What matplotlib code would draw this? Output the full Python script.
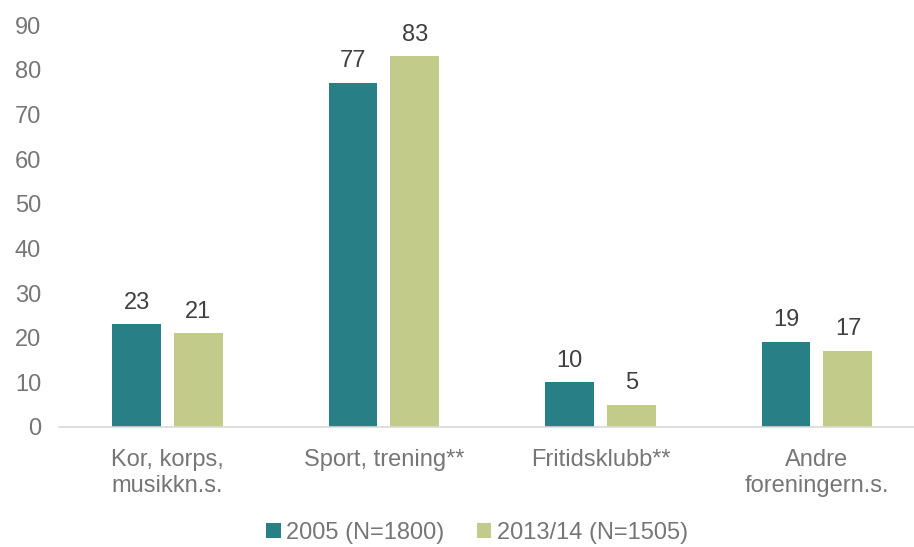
import matplotlib.pyplot as plt
import numpy as np

plt.rcParams['font.family'] = ['Liberation Sans', 'DejaVu Sans']

categories = ['Kor, korps,\nmusikkn.s.', 'Sport, trening**', 'Fritidsklubb**', 'Andre\nforeningern.s.']
series_names = ['2005 (N=1800)', '2013/14 (N=1505)']
vals_2005 = [23, 77, 10, 19]
vals_2013 = [21, 83, 5, 17]
colors = ['#297f86', '#c3cb8a']

fig = plt.figure(figsize=(9.14, 5.47), dpi=100)
# plot area runs a little past the right edge of the figure
ax = fig.add_axes([0.0648, 0.2194, 0.9475, 0.7346])

x = np.arange(len(categories))
w = 0.226
off = 0.143
b1 = ax.bar(x - off, vals_2005, w, color=colors[0], label=series_names[0])
b2 = ax.bar(x + off, vals_2013, w, color=colors[1], label=series_names[1])

for bars in (b1, b2):
    for r in bars:
        ax.text(r.get_x() + r.get_width() / 2, r.get_height() + 2.4, f'{r.get_height():.0f}',
                ha='center', va='bottom', fontsize=17, color='#404040')

ax.set_xlim(-0.5, 3.5)
ax.set_ylim(0, 90)
ax.set_yticks(range(0, 91, 10))
ax.set_xticks(x)
ax.set_xticklabels(categories, fontsize=17, color='#767676', linespacing=1.2)
ax.tick_params(axis='y', labelsize=17, labelcolor='#767676', length=0, pad=13)
ax.tick_params(axis='x', length=0, pad=16)
for s in ['top', 'right', 'left']:
    ax.spines[s].set_visible(False)
ax.spines['bottom'].set_color('#d9d9d9')
ax.spines['bottom'].set_linewidth(1.2)

fig.legend(loc='center', bbox_to_anchor=(0.522, 0.026), ncol=2, frameon=False,
           fontsize=17, labelcolor='#767676', handlelength=0.6, handleheight=0.6,
           handletextpad=0.25, columnspacing=1.35)

fig.savefig('out.png', dpi=100)
